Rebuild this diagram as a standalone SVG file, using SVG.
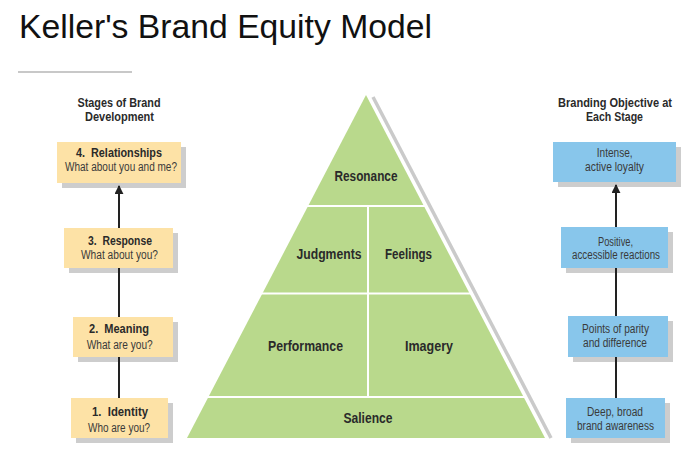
<svg xmlns="http://www.w3.org/2000/svg" width="694" height="452" viewBox="0 0 694 452">
  <defs>
    <style>
      text { white-space: pre; }
      .title { font-family: "Liberation Sans", Arial, sans-serif; font-size: 33px; fill: #111; }
      .hdr { font-family: "Liberation Sans", Arial, sans-serif; font-size: 13px; font-weight: bold; fill: #2a2a2a; text-anchor: middle; }
      .bt { font-family: "Liberation Sans", Arial, sans-serif; font-size: 13px; font-weight: bold; fill: #2a2a2a; text-anchor: middle; }
      .bs { font-family: "Liberation Sans", Arial, sans-serif; font-size: 12.5px; fill: #3a3a3a; text-anchor: middle; }
      .pl { font-family: "Liberation Sans", Arial, sans-serif; font-size: 14.5px; font-weight: bold; fill: #2a2a2a; text-anchor: middle; }
      .tan { fill: #fde2a6; }
      .blue { fill: #88c6eb; }
      .shadow { fill: #cdcdcd; }
      .green { fill: #b9d98c; }
      .div { stroke: #ffffff; stroke-width: 2; fill: none; }
      .conn { stroke: #222222; stroke-width: 2; fill: none; }
    </style>
    <marker id="arrow" viewBox="0 0 10 10" refX="9" refY="5" markerWidth="4.5" markerHeight="4.5" orient="auto" markerUnits="strokeWidth">
      <path d="M0,0 L10,5 L0,10 Z" fill="#222222"/>
    </marker>
  </defs>

  <rect x="0" y="0" width="694" height="452" fill="#ffffff"/>

  <g id="title">
    <text class="title" x="19" y="38" textLength="413" lengthAdjust="spacingAndGlyphs">Keller's Brand Equity Model</text>
    <line x1="18" y1="72" x2="132" y2="72" stroke="#c8c8c8" stroke-width="2"/>
  </g>

  <g id="header-left">
    <text class="hdr" x="119" y="107" textLength="83" lengthAdjust="spacingAndGlyphs">Stages of Brand</text>
    <text class="hdr" x="119.5" y="121" textLength="69" lengthAdjust="spacingAndGlyphs">Development</text>
  </g>
  <g id="header-right">
    <text class="hdr" x="615" y="107" textLength="114" lengthAdjust="spacingAndGlyphs">Branding Objective at</text>
    <text class="hdr" x="614.5" y="121" textLength="57" lengthAdjust="spacingAndGlyphs">Each Stage</text>
  </g>

  <!-- Pyramid -->
  <g id="pyramid-shadow">
    <line x1="373" y1="97" x2="551" y2="438" stroke="#cacaca" stroke-width="3.5"/>
  </g>
  <g id="resonance">
    <polygon class="green" points="366,95 423.9,206 308.1,206"/>
    <text class="pl" x="366" y="181" textLength="63" lengthAdjust="spacingAndGlyphs">Resonance</text>
  </g>
  <g id="judgments">
    <polygon class="green" points="308.1,206 368,206 368,293.5 262.4,293.5"/>
    <text class="pl" x="329" y="259" textLength="65" lengthAdjust="spacingAndGlyphs">Judgments</text>
  </g>
  <g id="feelings">
    <polygon class="green" points="368,206 423.9,206 469.6,293.5 368,293.5"/>
    <text class="pl" x="408.5" y="259" textLength="47" lengthAdjust="spacingAndGlyphs">Feelings</text>
  </g>
  <g id="performance">
    <polygon class="green" points="262.4,293.5 368,293.5 368,397 208.4,397"/>
    <text class="pl" x="305.5" y="351" textLength="75" lengthAdjust="spacingAndGlyphs">Performance</text>
  </g>
  <g id="imagery">
    <polygon class="green" points="368,293.5 469.6,293.5 523.6,397 368,397"/>
    <text class="pl" x="429" y="351" textLength="48" lengthAdjust="spacingAndGlyphs">Imagery</text>
  </g>
  <g id="salience">
    <polygon class="green" points="208.4,397 523.6,397 545,438 187,438"/>
    <text class="pl" x="368" y="423" textLength="49" lengthAdjust="spacingAndGlyphs">Salience</text>
  </g>
  <g id="pyramid-dividers">
    <line class="div" x1="306" y1="206" x2="426" y2="206"/>
    <line class="div" x1="260" y1="293.5" x2="472" y2="293.5"/>
    <line class="div" x1="206" y1="397" x2="526" y2="397"/>
    <line class="div" x1="368" y1="206" x2="368" y2="397"/>
  </g>

  <!-- Left stages -->
  <g id="stage-4">
    <rect class="shadow" x="62" y="147" width="124" height="41"/>
    <rect class="tan" x="57" y="142" width="124" height="41"/>
    <text class="bt" x="119" y="157" textLength="86" lengthAdjust="spacingAndGlyphs">4.  Relationships</text>
    <text class="bs" x="121" y="170.5" textLength="112" lengthAdjust="spacingAndGlyphs">What about you and me?</text>
  </g>
  <g id="stage-3">
    <rect class="shadow" x="69" y="233" width="109" height="40"/>
    <rect class="tan" x="64" y="228" width="109" height="40"/>
    <text class="bt" x="120" y="245" textLength="64" lengthAdjust="spacingAndGlyphs">3.  Response</text>
    <text class="bs" x="119.5" y="259" textLength="77" lengthAdjust="spacingAndGlyphs">What about you?</text>
  </g>
  <g id="stage-2">
    <rect class="shadow" x="78" y="322" width="100" height="40"/>
    <rect class="tan" x="73" y="317" width="100" height="40"/>
    <text class="bt" x="119" y="333" textLength="60" lengthAdjust="spacingAndGlyphs">2.  Meaning</text>
    <text class="bs" x="119.7" y="349" textLength="66" lengthAdjust="spacingAndGlyphs">What are you?</text>
  </g>
  <g id="stage-1">
    <rect class="shadow" x="76" y="403" width="97" height="40"/>
    <rect class="tan" x="71" y="398" width="97" height="40"/>
    <text class="bt" x="120" y="416" textLength="56" lengthAdjust="spacingAndGlyphs">1.  Identity</text>
    <text class="bs" x="119" y="431.5" textLength="62" lengthAdjust="spacingAndGlyphs">Who are you?</text>
  </g>

  <!-- Right objectives -->
  <g id="objective-4">
    <rect class="shadow" x="558" y="147" width="123" height="40"/>
    <rect class="blue" x="553" y="142" width="123" height="40"/>
    <text class="bs" x="614.7" y="157" textLength="36" lengthAdjust="spacingAndGlyphs">Intense,</text>
    <text class="bs" x="614.5" y="171" textLength="59" lengthAdjust="spacingAndGlyphs">active loyalty</text>
  </g>
  <g id="objective-3">
    <rect class="shadow" x="566" y="232" width="107" height="41"/>
    <rect class="blue" x="561" y="227" width="107" height="41"/>
    <text class="bs" x="615.5" y="245.5" textLength="35" lengthAdjust="spacingAndGlyphs">Positive,</text>
    <text class="bs" x="616" y="259" textLength="88" lengthAdjust="spacingAndGlyphs">accessible reactions</text>
  </g>
  <g id="objective-2">
    <rect class="shadow" x="573" y="321" width="100" height="41"/>
    <rect class="blue" x="568" y="316" width="100" height="41"/>
    <text class="bs" x="615.5" y="333" textLength="67" lengthAdjust="spacingAndGlyphs">Points of parity</text>
    <text class="bs" x="615" y="347" textLength="64" lengthAdjust="spacingAndGlyphs">and difference</text>
  </g>
  <g id="objective-1">
    <rect class="shadow" x="571" y="403" width="99" height="40"/>
    <rect class="blue" x="566" y="398" width="99" height="40"/>
    <text class="bs" x="615" y="415.5" textLength="56" lengthAdjust="spacingAndGlyphs">Deep, broad</text>
    <text class="bs" x="615.5" y="430" textLength="77" lengthAdjust="spacingAndGlyphs">brand awareness</text>
  </g>

  <!-- Connectors -->
  <g id="connectors">
    <line class="conn" x1="119" y1="398" x2="119" y2="357"/>
    <line class="conn" x1="119" y1="317" x2="119" y2="268"/>
    <line class="conn" x1="119" y1="228" x2="119" y2="186" marker-end="url(#arrow)"/>
    <line class="conn" x1="616" y1="398" x2="616" y2="357"/>
    <line class="conn" x1="616" y1="316" x2="616" y2="268"/>
    <line class="conn" x1="616" y1="227" x2="616" y2="185" marker-end="url(#arrow)"/>
  </g>
</svg>
